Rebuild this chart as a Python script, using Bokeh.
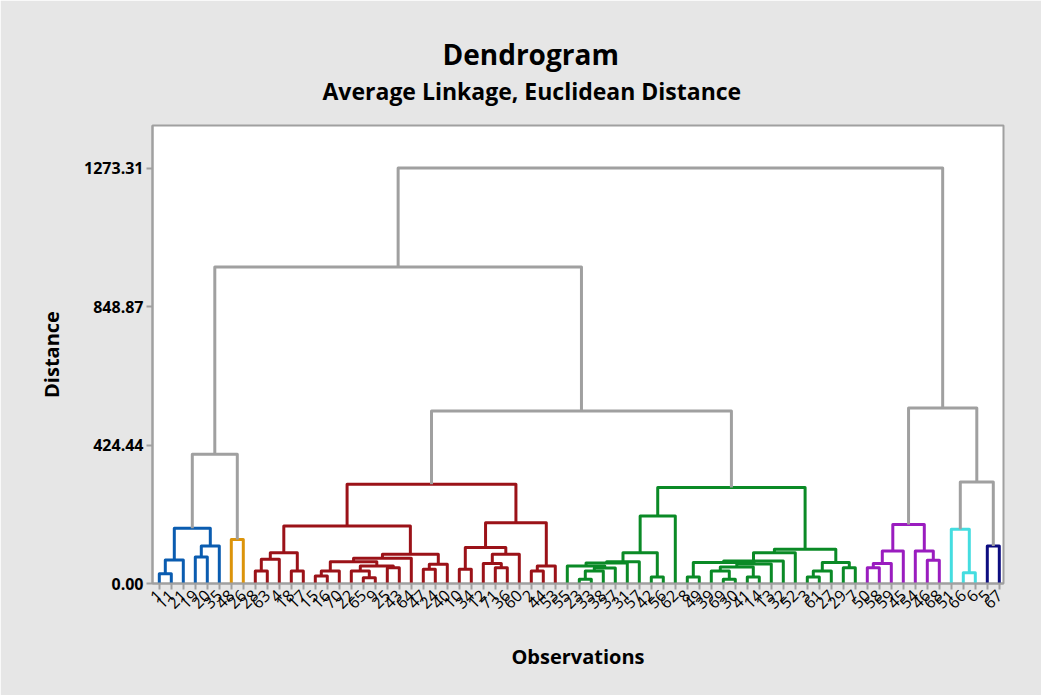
import math
from bokeh.plotting import figure
from bokeh.models import FixedTicker, NumeralTickFormatter, ColumnDataSource, Range1d, Title
from bokeh.embed import file_html
from bokeh.resources import INLINE

# ---------------- data ----------------
# observation labels in dendrogram (display) order
leaf_labels = ["1", "11", "21", "19", "20", "35", "48", "26",
               "28", "63", "4", "18", "17", "15", "16", "70", "22", "65", "9", "25", "43", "64", "47",
               "24", "40", "10", "34", "12", "71", "36", "60", "2", "44", "53",
               "55", "23", "33", "38", "37", "31", "57", "42", "56", "62", "8", "49", "39", "69", "30",
               "41", "14", "13", "32", "52", "3", "61", "27", "29", "7",
               "50", "58", "59", "45", "54", "46", "68",
               "51", "66", "6",
               "5", "67"]

# linkage: node ids < 71 are leaves (display position), id 71+k is merge k
merge_left = [0, 71, 3, 73, 72, 6,
              8, 77, 11, 78, 13, 81, 17, 16, 19, 84, 82, 87, 22, 89, 88, 80,
              25, 28, 27, 95, 93, 31, 98, 97, 92,
              35, 102, 103, 34, 105, 106, 41, 107, 109,
              44, 47, 46, 49, 113, 115, 111, 117, 118, 54, 120, 57, 121, 119, 110,
              59, 126, 127, 64, 63, 128,
              67, 66, 69,
              75, 101, 133, 131, 135, 139]
merge_right = [1, 2, 4, 5, 74, 7,
               9, 10, 12, 79, 14, 15, 18, 83, 20, 85, 86, 21, 23, 24, 90, 91,
               26, 29, 94, 30, 96, 32, 33, 99, 100,
               36, 37, 38, 104, 39, 40, 42, 108, 43,
               45, 48, 112, 50, 114, 51, 116, 52, 53, 55, 56, 58, 122, 123, 124,
               60, 61, 62, 65, 129, 130,
               68, 132, 70,
               76, 125, 134, 137, 136, 138]
merge_height = [30, 72, 81, 115, 169, 135,
                38, 74, 38, 94, 23, 38, 18, 38, 48, 54, 67, 77, 43.5, 59, 89.5, 176,
                43.5, 48, 61, 89.5, 110, 38, 54, 186, 304,
                13, 38, 47.5, 54, 63, 67, 20, 94, 207,
                20, 13, 38, 20, 50.5, 60, 64, 69, 94, 20, 38, 48, 64, 105, 294,
                48, 61, 99.6, 71, 99.6, 181,
                33, 166, 115,
                396, 529, 311, 538, 970, 1273.31]

n_clusters = 7
cluster_colors = ["#0a5cb0", "#dc940a", "#9b1218", "#0a8a26", "#9a1cbf", "#44dde0", "#0d0d80"]
link_gray = "#a0a0a0"
y_ticks = [0.0, 424.44, 848.87, 1273.31]

FONT = "Open Sans"

# ---------------- layout of the tree ----------------
n = len(leaf_labels)
xpos = {i: float(i + 1) for i in range(n)}
hpos = {i: 0.0 for i in range(n)}
for k in range(n - 1):
    nid = n + k
    xpos[nid] = (xpos[merge_left[k]] + xpos[merge_right[k]]) / 2.0
    hpos[nid] = merge_height[k]

order = sorted(range(n - 1), key=lambda k: merge_height[k])
gray = set(order[len(order) - (n_clusters - 1):])

roots = []
for k in gray:
    for c in (merge_left[k], merge_right[k]):
        if not (c >= n and (c - n) in gray):
            roots.append(c)
roots.sort(key=lambda c: xpos[c])

merge_color = [link_gray] * (n - 1)


def paint(node, color):
    if node < n:
        return
    k = node - n
    merge_color[k] = color
    paint(merge_left[k], color)
    paint(merge_right[k], color)


for ci, r in enumerate(roots):
    paint(r, cluster_colors[ci % len(cluster_colors)])

xs, ys, cols = [], [], []
for k in range(n - 1):
    a, b = merge_left[k], merge_right[k]
    xs.append([xpos[a], xpos[a], xpos[b], xpos[b]])
    ys.append([hpos[a], merge_height[k], merge_height[k], hpos[b]])
    cols.append(merge_color[k])

src = ColumnDataSource(dict(xs=xs, ys=ys, color=cols))

# ---------------- figure ----------------
W, H = 1041, 695
p = figure(width=W, height=H, output_backend="svg", toolbar_location=None,
           x_range=Range1d(0.433, 0.433 + 851 / 12.0), y_range=Range1d(0, 1403.6),
           min_border_left=152, min_border_right=38, min_border_top=125, min_border_bottom=112)
p.border_fill_color = "#e6e6e6"
p.background_fill_color = "white"
p.outline_line_color = "#a0a0a0"
p.outline_line_width = 2
p.xgrid.visible = False
p.ygrid.visible = False

p.multi_line(xs="xs", ys="ys", line_color="color", line_width=3, line_join="round", source=src)

# x axis
p.xaxis.ticker = FixedTicker(ticks=[i + 1 for i in range(n)])
p.xaxis.major_label_overrides = {i + 1: leaf_labels[i] for i in range(n)}
p.xaxis.major_label_orientation = math.pi / 4
p.xaxis.major_label_text_font = FONT
p.xaxis.major_label_text_font_size = "16px"
p.xaxis.major_label_text_color = "black"
p.xaxis.major_label_standoff = 3
p.xaxis.axis_label = "Observations"
p.xaxis.axis_label_text_font = FONT
p.xaxis.axis_label_text_font_size = "20px"
p.xaxis.axis_label_text_font_style = "bold"
p.xaxis.axis_label_text_color = "black"
p.xaxis.axis_label_standoff = 26

# y axis
p.yaxis.ticker = FixedTicker(ticks=y_ticks)
p.yaxis.formatter = NumeralTickFormatter(format="0.00")
p.yaxis.major_label_text_font = FONT
p.yaxis.major_label_text_font_size = "16px"
p.yaxis.major_label_text_font_style = "bold"
p.yaxis.major_label_text_color = "black"
p.yaxis.major_label_standoff = 3
p.yaxis.axis_label = "Distance"
p.yaxis.axis_label_text_font = FONT
p.yaxis.axis_label_text_font_size = "20px"
p.yaxis.axis_label_text_font_style = "bold"
p.yaxis.axis_label_text_color = "black"
p.yaxis.axis_label_standoff = 16

for ax in (p.xaxis, p.yaxis):
    ax.axis_line_color = "#a0a0a0"
    ax.axis_line_width = 2
    ax.major_tick_line_color = "#a0a0a0"
    ax.major_tick_line_width = 2
    ax.major_tick_out = 6
    ax.major_tick_in = 0
    ax.minor_tick_line_color = None

# titles: subtitle first (closest to the frame), then main title above it
p.add_layout(Title(text="Average Linkage, Euclidean Distance", align="left", offset=170,
                   text_font=FONT, text_font_style="bold", text_font_size="23px",
                   text_color="black", standoff=37), "above")
p.add_layout(Title(text="Dendrogram", align="left", offset=290,
                   text_font=FONT, text_font_style="bold", text_font_size="28px",
                   text_color="black", standoff=-36), "above")

open("out.html", "w").write(file_html(p, INLINE))
